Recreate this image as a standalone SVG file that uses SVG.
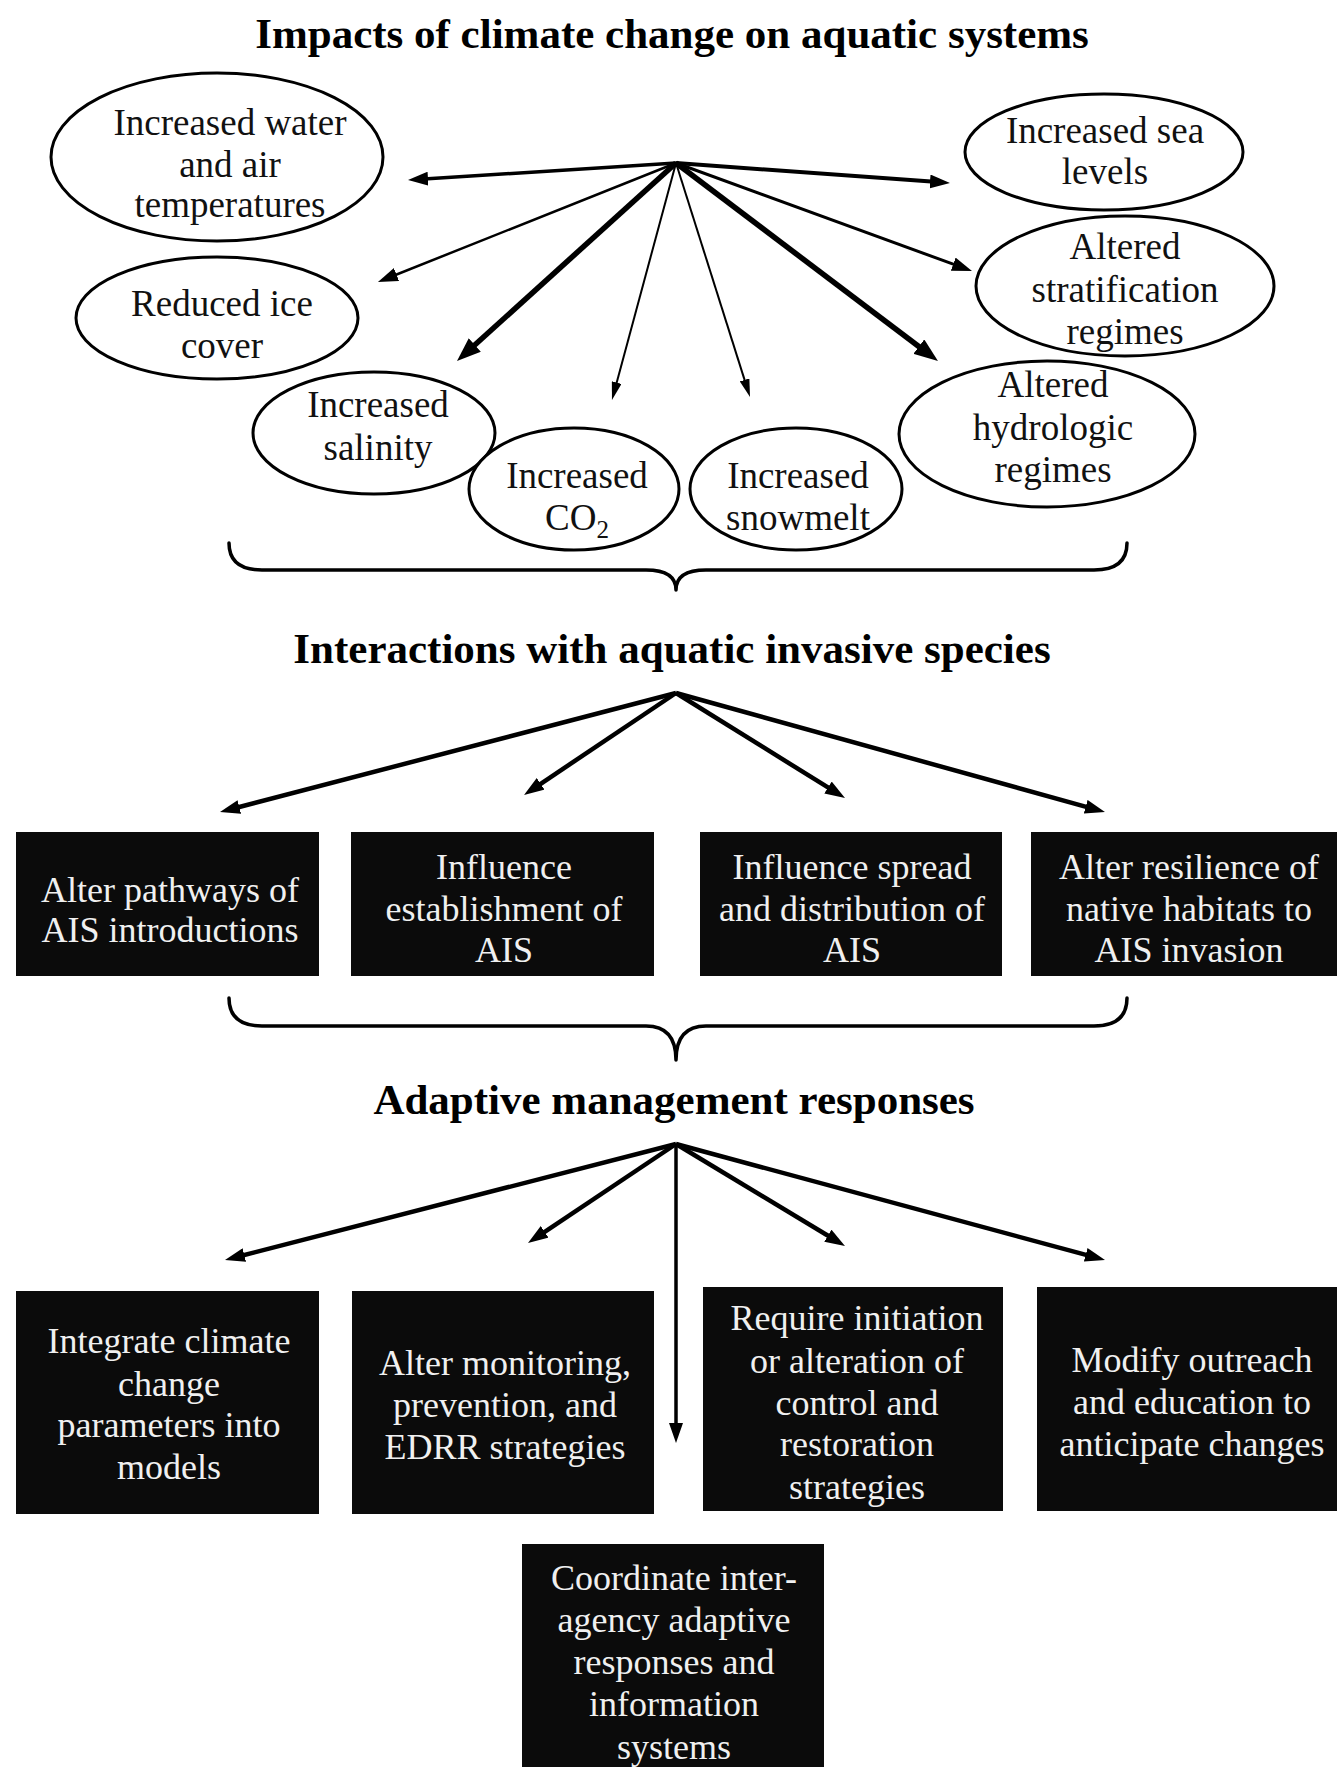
<svg xmlns="http://www.w3.org/2000/svg" width="1337" height="1767" viewBox="0 0 1337 1767">
<style>
.title{font-family:"Liberation Serif","Times New Roman",serif;font-weight:bold;font-size:43px;text-anchor:middle;fill:#000}
.el{fill:#fff;stroke:#000;stroke-width:3}
.et{font-family:"Liberation Serif","Times New Roman",serif;font-size:37px;text-anchor:middle;fill:#111}
.box{fill:#0b0b0b}
.bt{font-family:"Liberation Serif","Times New Roman",serif;font-size:36px;text-anchor:middle;fill:#f0f0f0}
.ar{stroke:#000;fill:none}
.brace{fill:none;stroke:#000;stroke-width:3.5;stroke-linecap:round;stroke-linejoin:round}
</style>
<defs>
<marker id="ah" viewBox="0 0 20 14" refX="8" refY="7" markerWidth="20" markerHeight="14" markerUnits="userSpaceOnUse" orient="auto"><path d="M0,0 L20,7 L0,14 z" fill="#000"/></marker>
<marker id="ahL" viewBox="0 0 24 18" refX="12" refY="9" markerWidth="24" markerHeight="18" markerUnits="userSpaceOnUse" orient="auto"><path d="M0,0 L24,9 L0,18 z" fill="#000"/></marker>
<marker id="ahS" viewBox="0 0 18 10" refX="6" refY="5" markerWidth="18" markerHeight="10" markerUnits="userSpaceOnUse" orient="auto"><path d="M0,0 L18,5 L0,10 z" fill="#000"/></marker>
</defs>
<rect width="1337" height="1767" fill="#fff"/>

<g id="titles">
<text class="title" x="672" y="48">Impacts of climate change on aquatic systems</text>
<text class="title" x="672" y="663">Interactions with aquatic invasive species</text>
<text class="title" x="674" y="1114">Adaptive management responses</text>
</g>

<g id="connectors">
<line class="ar" x1="676" y1="163" x2="420" y2="179.2" stroke-width="3.5" marker-end="url(#ah)"/>
<line class="ar" x1="676" y1="163" x2="938" y2="182.1" stroke-width="4" marker-end="url(#ah)"/>
<line class="ar" x1="676" y1="163" x2="389.1" y2="277.5" stroke-width="2.5" marker-end="url(#ah)"/>
<line class="ar" x1="676" y1="163" x2="960.7" y2="266.9" stroke-width="3" marker-end="url(#ah)"/>
<line class="ar" x1="676" y1="163" x2="465.9" y2="353" stroke-width="5.5" marker-end="url(#ahL)"/>
<line class="ar" x1="676" y1="163" x2="928.4" y2="353.8" stroke-width="5.5" marker-end="url(#ahL)"/>
<line class="ar" x1="676" y1="163" x2="615.1" y2="388.4" stroke-width="2" marker-end="url(#ahS)"/>
<line class="ar" x1="676" y1="163" x2="746.4" y2="385.6" stroke-width="2" marker-end="url(#ahS)"/>

<path class="brace" d="M229,543 Q229,570 262,570 L646,570 Q676,570 676,590 Q676,570 706,570 L1094,570 Q1127,570 1127,543"/>

<line class="ar" x1="676" y1="693" x2="231.6" y2="809" stroke-width="4.5" marker-end="url(#ah)"/>
<line class="ar" x1="676" y1="693" x2="534" y2="788.3" stroke-width="4.5" marker-end="url(#ah)"/>
<line class="ar" x1="676" y1="693" x2="834.8" y2="791.7" stroke-width="4.5" marker-end="url(#ah)"/>
<line class="ar" x1="676" y1="693" x2="1093.4" y2="808.8" stroke-width="4.5" marker-end="url(#ah)"/>

<path class="brace" d="M229,998 Q229,1026 262,1026 L646,1026 Q676,1026 676,1060 Q676,1026 706,1026 L1094,1026 Q1127,1026 1127,998"/>

<line class="ar" x1="676" y1="1144" x2="236.6" y2="1257" stroke-width="4.5" marker-end="url(#ah)"/>
<line class="ar" x1="676" y1="1144" x2="538" y2="1236.3" stroke-width="4.5" marker-end="url(#ah)"/>
<line class="ar" x1="676" y1="1144" x2="676" y2="1431" stroke-width="3.5" marker-end="url(#ah)"/>
<line class="ar" x1="676" y1="1144" x2="834.7" y2="1239.8" stroke-width="4.5" marker-end="url(#ah)"/>
<line class="ar" x1="676" y1="1144" x2="1093.4" y2="1256.9" stroke-width="4.5" marker-end="url(#ah)"/>
</g>

<g id="n-water-air">
<ellipse class="el" cx="217" cy="157" rx="166" ry="84"/>
<text class="et"><tspan x="230" y="135">Increased water</tspan><tspan x="230" y="177">and air</tspan><tspan x="230" y="217">temperatures</tspan></text>
</g>
<g id="n-sea">
<ellipse class="el" cx="1104" cy="152" rx="139" ry="58"/>
<text class="et"><tspan x="1105" y="143">Increased sea</tspan><tspan x="1105" y="184">levels</tspan></text>
</g>
<g id="n-ice">
<ellipse class="el" cx="217" cy="318" rx="141" ry="61"/>
<text class="et"><tspan x="222" y="316">Reduced ice</tspan><tspan x="222" y="358">cover</tspan></text>
</g>
<g id="n-strat">
<ellipse class="el" cx="1125" cy="286" rx="149" ry="70"/>
<text class="et"><tspan x="1125" y="259">Altered</tspan><tspan x="1125" y="302">stratification</tspan><tspan x="1125" y="344">regimes</tspan></text>
</g>
<g id="n-salinity">
<ellipse class="el" cx="374" cy="433" rx="121" ry="61"/>
<text class="et"><tspan x="378" y="417">Increased</tspan><tspan x="378" y="460">salinity</tspan></text>
</g>
<g id="n-hydro">
<ellipse class="el" cx="1047" cy="434" rx="148" ry="73"/>
<text class="et"><tspan x="1053" y="397">Altered</tspan><tspan x="1053" y="440">hydrologic</tspan><tspan x="1053" y="482">regimes</tspan></text>
</g>
<g id="n-co2">
<ellipse class="el" cx="574" cy="489" rx="105" ry="61"/>
<text class="et"><tspan x="577" y="488">Increased</tspan><tspan x="577" y="530">CO<tspan font-size="25" dy="8">2</tspan></tspan></text>
</g>
<g id="n-snowmelt">
<ellipse class="el" cx="796" cy="489" rx="106" ry="61"/>
<text class="et"><tspan x="798" y="488">Increased</tspan><tspan x="798" y="530">snowmelt</tspan></text>
</g>

<g id="n-pathways">
<rect class="box" x="16" y="832" width="303" height="144"/>
<text class="bt"><tspan x="170" y="902">Alter pathways of</tspan><tspan x="170" y="942">AIS introductions</tspan></text>
</g>
<g id="n-establishment">
<rect class="box" x="351" y="832" width="303" height="144"/>
<text class="bt"><tspan x="504" y="879">Influence</tspan><tspan x="504" y="921">establishment of</tspan><tspan x="504" y="962">AIS</tspan></text>
</g>
<g id="n-spread">
<rect class="box" x="700" y="832" width="302" height="144"/>
<text class="bt"><tspan x="852" y="879">Influence spread</tspan><tspan x="852" y="921">and distribution of</tspan><tspan x="852" y="962">AIS</tspan></text>
</g>
<g id="n-resilience">
<rect class="box" x="1031" y="832" width="306" height="144"/>
<text class="bt"><tspan x="1189" y="879">Alter resilience of</tspan><tspan x="1189" y="921">native habitats to</tspan><tspan x="1189" y="962">AIS invasion</tspan></text>
</g>

<g id="n-integrate">
<rect class="box" x="16" y="1291" width="303" height="223"/>
<text class="bt"><tspan x="169" y="1353">Integrate climate</tspan><tspan x="169" y="1396">change</tspan><tspan x="169" y="1437">parameters into</tspan><tspan x="169" y="1479">models</tspan></text>
</g>
<g id="n-monitoring">
<rect class="box" x="352" y="1291" width="302" height="223"/>
<text class="bt"><tspan x="505" y="1375">Alter monitoring,</tspan><tspan x="505" y="1417">prevention, and</tspan><tspan x="505" y="1459">EDRR strategies</tspan></text>
</g>
<g id="n-control">
<rect class="box" x="703" y="1287" width="300" height="224"/>
<text class="bt"><tspan x="857" y="1330">Require initiation</tspan><tspan x="857" y="1373">or alteration of</tspan><tspan x="857" y="1415">control and</tspan><tspan x="857" y="1456">restoration</tspan><tspan x="857" y="1499">strategies</tspan></text>
</g>
<g id="n-outreach">
<rect class="box" x="1037" y="1287" width="300" height="224"/>
<text class="bt"><tspan x="1192" y="1372">Modify outreach</tspan><tspan x="1192" y="1414">and education to</tspan><tspan x="1192" y="1456">anticipate changes</tspan></text>
</g>
<g id="n-coordinate">
<rect class="box" x="522" y="1544" width="302" height="223"/>
<text class="bt"><tspan x="674" y="1590">Coordinate inter-</tspan><tspan x="674" y="1632">agency adaptive</tspan><tspan x="674" y="1674">responses and</tspan><tspan x="674" y="1716">information</tspan><tspan x="674" y="1759">systems</tspan></text>
</g>
</svg>
